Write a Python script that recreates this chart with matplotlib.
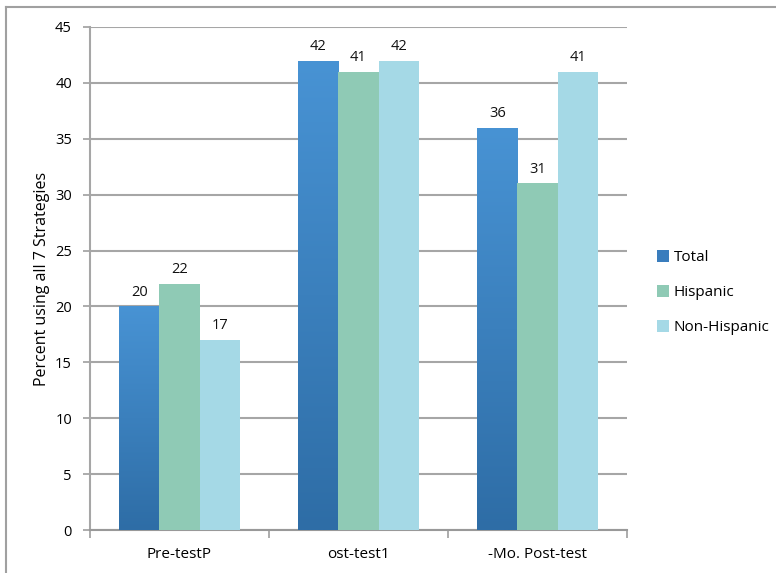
import matplotlib.pyplot as plt
import numpy as np
from matplotlib.colors import LinearSegmentedColormap
from matplotlib.lines import Line2D
from matplotlib.patches import Patch

plt.rcParams["font.family"] = ["Open Sans", "DejaVu Sans"]

groups = ["Pre-testP", "ost-test1", "-Mo. Post-test"]
series = ["Total", "Hispanic", "Non-Hispanic"]
total = [20, 42, 36]
hispanic = [22, 41, 31]
non_hispanic = [17, 42, 41]

colors = ["#3f86c8", "#8fcab5", "#a5d9e6"]
grid_color = "#a6a6a6"

fig = plt.figure(figsize=(7.76, 5.73), dpi=100)
ax = fig.add_axes([90 / 776, 43 / 573, 537 / 776, 503 / 573])

# outer chart frame (top and left edges only)
fig.add_artist(Line2D([6 / 776, 6 / 776], [0, 1 - 7 / 573], color="#a0a0a0", lw=1.5,
                      transform=fig.transFigure))
fig.add_artist(Line2D([6 / 776, 1], [1 - 7 / 573, 1 - 7 / 573], color="#a0a0a0", lw=1.5,
                      transform=fig.transFigure))

x = np.arange(len(groups))
width = 0.225
offsets = [-width, 0, width]
blue_grad = LinearSegmentedColormap.from_list("blue_grad", ["#2e6da6", "#4893d4"])

for vals, off, col, name in zip([total, hispanic, non_hispanic], offsets, colors, series):
    bars = ax.bar(x + off, vals, width, color=col, zorder=3, label=name)
    for b, v in zip(bars, vals):
        if name == "Total":
            b.set_facecolor("none")
            x0 = b.get_x()
            grad = np.linspace(0, 1, 256).reshape(-1, 1)
            im = ax.imshow(grad, cmap=blue_grad, aspect="auto", origin="lower",
                           extent=(x0, x0 + width, 0, v), zorder=3)
            im.set_clip_path(b)
        ax.text(b.get_x() + width / 2, v + 0.6, f"{v}", ha="center", va="bottom",
                fontsize=10.5, color="#111111", zorder=4)

ax.set_xlim(-0.5, 2.5)
ax.set_ylim(0, 45)
ax.set_yticks(range(0, 46, 5))
ax.set_xticks([-0.5, 0.5, 1.5, 2.5], minor=False)
ax.set_xticklabels([])
ax.set_xticks(x, minor=True)
ax.set_xticklabels(groups, minor=True, fontsize=11)
ax.tick_params(axis="x", which="minor", length=0, pad=12)
ax.tick_params(axis="x", which="major", length=6, color=grid_color, width=1.3)
ax.tick_params(axis="y", length=5, color=grid_color, width=1.3, labelsize=10.5, pad=8)

ax.grid(axis="y", color=grid_color, lw=1.5, zorder=0)
ax.set_axisbelow(True)
for s in ["top", "right"]:
    ax.spines[s].set_visible(False)
ax.spines["left"].set_color(grid_color)
ax.spines["left"].set_linewidth(1.5)
ax.spines["bottom"].set_color("#999999")
ax.spines["bottom"].set_linewidth(1.5)

ax.set_ylabel("Percent using all 7 Strategies", fontsize=11.5, labelpad=4)

handles = [Patch(facecolor=c, edgecolor="none") for c in colors]
handles[0] = Patch(facecolor="#3a7dbd", edgecolor="none")
ax.legend(handles, series, loc="center left", bbox_to_anchor=(1.03, 0.472),
          frameon=False, fontsize=11, handlelength=0.8, handleheight=0.8,
          handletextpad=0.3, labelspacing=1.3)

fig.savefig("out.png", dpi=100)
